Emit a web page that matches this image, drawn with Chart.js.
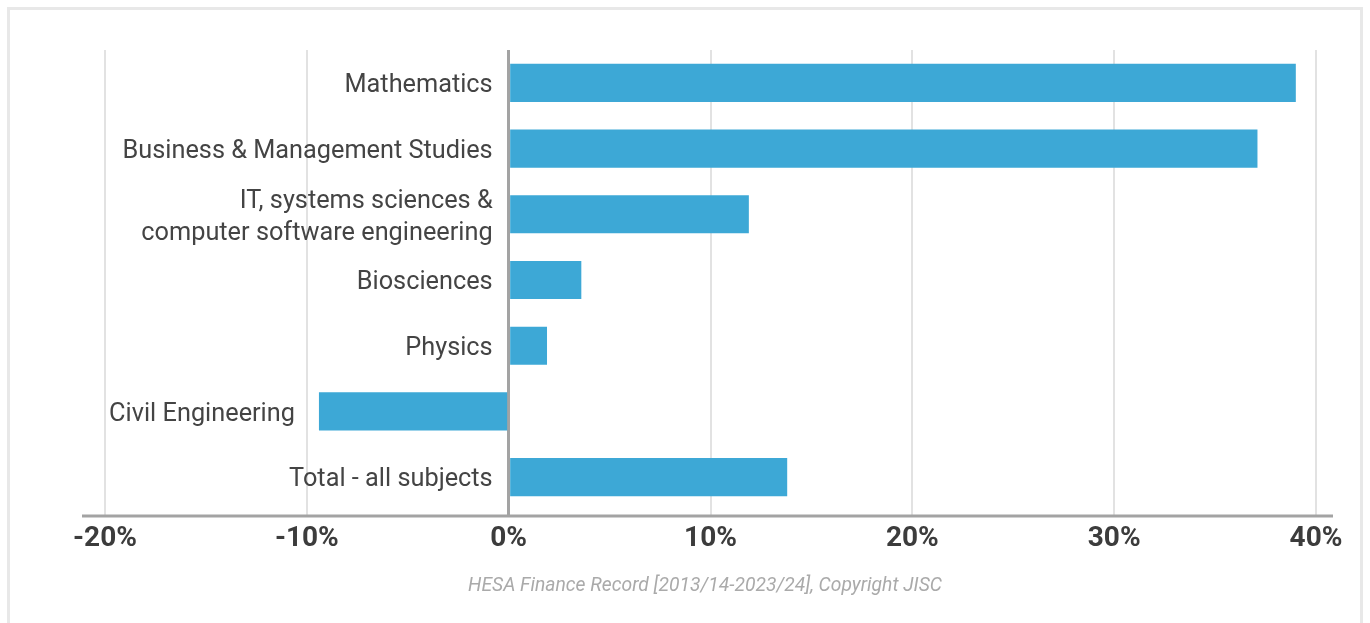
<!DOCTYPE html>
<html>
<head>
<meta charset="utf-8">
<script src="https://cdn.jsdelivr.net/npm/chart.js@4"></script>
<style>
  html, body { margin: 0; padding: 0; background: #fff; overflow: hidden; }
  #frame { position: absolute; left: 7px; top: 7px; width: 1356px; height: 700px; border: 3px solid #e8e8e8; box-sizing: border-box; }
  #wrap { position: absolute; left: 0; top: 0; width: 1370px; height: 623px; }
</style>
</head>
<body>
<div id="frame"></div>
<div id="wrap"><canvas id="hesa-chart" width="1370" height="623"></canvas></div>
<script>
// data
const subjects = [
  ["Mathematics"],
  ["Business & Management Studies"],
  ["IT, systems sciences &", "computer software engineering"],
  ["Biosciences"],
  ["Physics"],
  ["Civil Engineering"],
  ["Total - all subjects"]
];
const growth = [39.0, 37.1, 11.9, 3.6, 1.9, -9.4, 13.8];
const tickValues = [-20, -10, 0, 10, 20, 30, 40];
const sourceNote = "HESA Finance Record [2013/14-2023/24], Copyright JISC";

const barColour = '#3da8d6';
const labelFont = "25.3px Roboto";

// labels sit just left of each bar's base, plus the axis line and source note
const labelPlugin = {
  id: 'labels',
  afterDraw(chart) {
    const ctx = chart.ctx;
    const xs = chart.scales.x;
    const meta = chart.getDatasetMeta(0);
    ctx.save();
    ctx.font = labelFont;
    ctx.fillStyle = '#444';
    ctx.textAlign = 'right';
    ctx.textBaseline = 'middle';
    meta.data.forEach((bar, i) => {
      const v = growth[i];
      const x = v < 0 ? xs.getPixelForValue(v) - 24 : xs.getPixelForValue(0) - 16;
      const lines = subjects[i];
      const lh = 32;
      lines.forEach((line, j) => {
        const y = bar.y + 3 + (j - (lines.length - 1) / 2) * lh;
        ctx.fillText(line, x, y);
      });
    });

    // bottom axis line
    const yAxis = chart.chartArea.bottom + 6;
    ctx.strokeStyle = '#a3a3a3';
    ctx.lineWidth = 3;
    ctx.beginPath();
    ctx.moveTo(82, yAxis);
    ctx.lineTo(1333, yAxis);
    ctx.stroke();

    ctx.font = "italic 19.3px Roboto";
    ctx.fillStyle = '#aaaaaa';
    ctx.textAlign = 'center';
    ctx.fillText(sourceNote, 705, 586);
    ctx.restore();
  }
};

const ctx = document.getElementById('hesa-chart').getContext('2d');
const chart = new Chart(ctx, {
  type: 'bar',
  data: {
    labels: subjects,
    datasets: [{
      data: growth,
      backgroundColor: barColour,
      borderWidth: 0,
      barPercentage: 0.58,
      categoryPercentage: 1
    }]
  },
  options: {
    indexAxis: 'y',
    responsive: false,
    animation: false,
    layout: { padding: { left: 105, right: 54, top: 50, bottom: 0 } },
    plugins: { legend: { display: false }, tooltip: { enabled: false } },
    scales: {
      x: {
        min: -20,
        max: 40,
        afterBuildTicks: (s) => { s.ticks = tickValues.map(v => ({ value: v })); },
        afterFit: (s) => { s.height = 113; },
        border: { display: false },
        grid: {
          color: (c) => c.tick && c.tick.value === 0 ? '#a3a3a3' : '#e2e2e2',
          lineWidth: (c) => c.tick && c.tick.value === 0 ? 3 : 2,
          drawTicks: true,
          tickLength: 6
        },
        ticks: {
          padding: 6,
          color: '#3c3c3c',
          font: { family: 'Roboto', size: 28, weight: 'bold' },
          callback: (v) => v + '%'
        }
      },
      y: {
        display: false,
        grid: { display: false }
      }
    }
  },
  plugins: [labelPlugin]
});
</script>
</body>
</html>
